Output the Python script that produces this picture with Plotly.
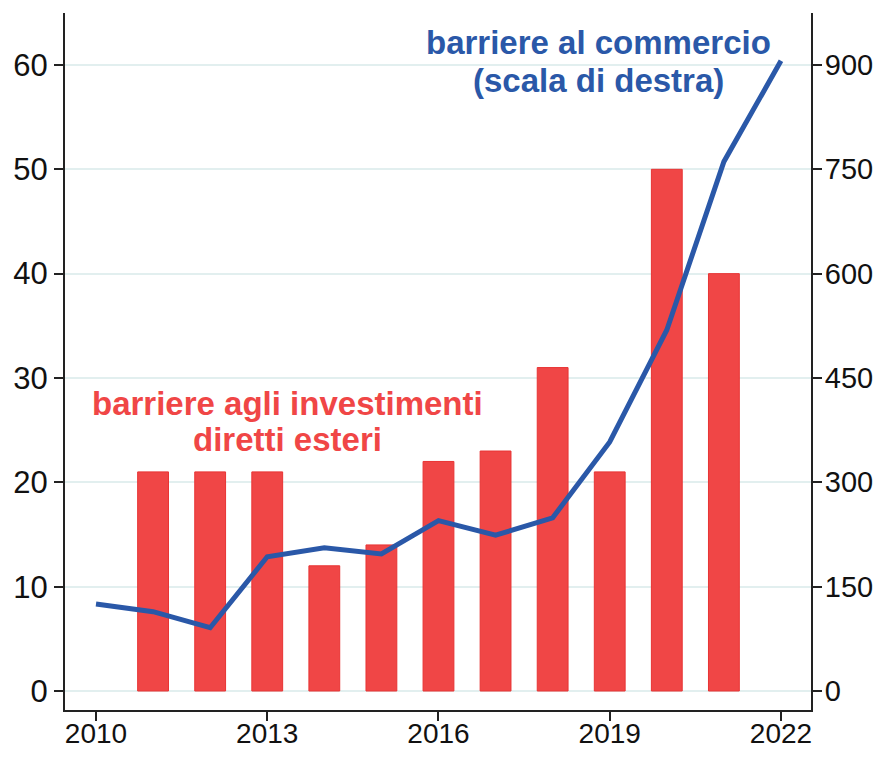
import plotly.graph_objects as go

# barriere agli investimenti diretti esteri (scala di sinistra)
bar_years = [2011, 2012, 2013, 2014, 2015, 2016, 2017, 2018, 2019, 2020, 2021]
fdi_barriers = [21, 21, 21, 12, 14, 22, 23, 31, 21, 50, 40]

# barriere al commercio (scala di destra)
line_years = [2010, 2011, 2012, 2013, 2014, 2015, 2016, 2017, 2018, 2019, 2020, 2021, 2022]
trade_barriers = [125, 114, 91, 193, 206, 197, 245, 224, 249, 358, 519, 761, 906]

x_ticks = [2010, 2013, 2016, 2019, 2022]
left_ticks = [0, 10, 20, 30, 40, 50, 60]
right_ticks = [0, 150, 300, 450, 600, 750, 900]

RED = "#F04646"
BLUE = "#2A58A8"
tick_font = "Liberation Sans, Arial"


def axis_style(size):
    return dict(
        showline=True, linecolor="#222222", linewidth=2,
        ticks="outside", ticklen=9, tickwidth=2, tickcolor="#222222",
        tickfont=dict(family=tick_font, size=size, color="#111111"),
        zeroline=False, automargin=False,
    )


fig = go.Figure()

fig.add_trace(go.Bar(
    x=bar_years, y=fdi_barriers,
    marker=dict(color=RED, line=dict(color="#E83434", width=1)),
    width=0.54, yaxis="y",
))

fig.add_trace(go.Scatter(
    x=line_years, y=trade_barriers,
    mode="lines", line=dict(color=BLUE, width=5),
    yaxis="y2",
))

# the page body adds an 8px margin, so keep the figure inside the window
fig.update_layout(
    width=877, height=741,
    margin=dict(l=57, r=74, t=5, b=39),
    paper_bgcolor="white", plot_bgcolor="white",
    showlegend=False,
    xaxis=dict(
        range=[2009.457, 2022.526], tickvals=x_ticks, showgrid=False,
        ticklabelstandoff=-12,
        **axis_style(28),
    ),
    yaxis=dict(
        range=[-1.82, 64.98], tickvals=left_ticks,
        showgrid=True, gridcolor="#E2EFEF", gridwidth=2,
        **axis_style(31),
    ),
    yaxis2=dict(
        range=[-27.3, 974.7], tickvals=right_ticks,
        overlaying="y", side="right", showgrid=False,
        ticklabelstandoff=-3,
        **axis_style(29),
    ),
)

# etichette delle serie, una riga per annotazione per tenere l'interlinea stretta
label_font = dict(family="Liberation Sans, Arial", size=33, weight="bold")
fig.add_annotation(x=2013.36, y=27.6, xref="x", yref="y",
                   text="barriere agli investimenti", showarrow=False,
                   font=dict(color=RED, **label_font))
fig.add_annotation(x=2013.36, y=24.06, xref="x", yref="y",
                   text="diretti esteri", showarrow=False,
                   font=dict(color=RED, **label_font))
fig.add_annotation(x=2018.8, y=933, xref="x", yref="y2",
                   text="barriere al commercio", showarrow=False,
                   font=dict(color=BLUE, **label_font))
fig.add_annotation(x=2018.8, y=878, xref="x", yref="y2",
                   text="(scala di destra)", showarrow=False,
                   font=dict(color=BLUE, **label_font))

fig.write_html("out.html")
